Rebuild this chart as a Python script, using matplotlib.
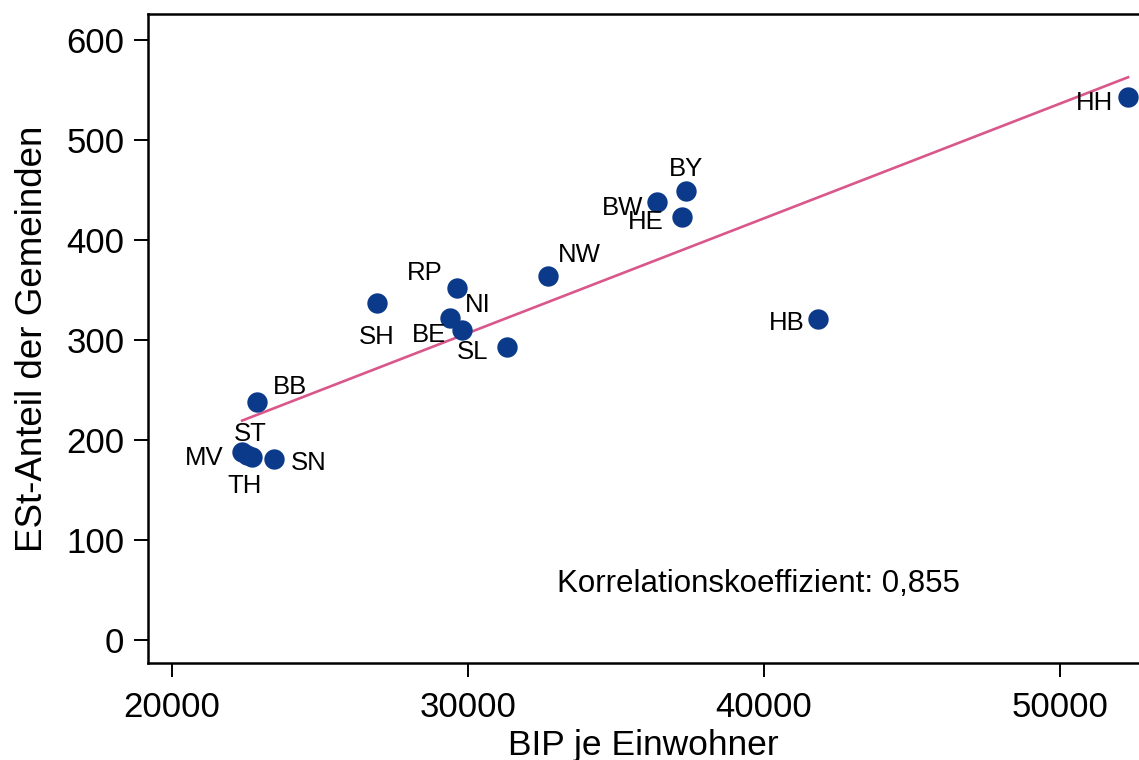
import matplotlib
matplotlib.use('Agg')
import matplotlib.pyplot as plt
import numpy as np

plt.rcParams['font.family'] = ['Liberation Sans', 'DejaVu Sans']

# Bundeslaender: BIP je Einwohner vs. ESt-Anteil der Gemeinden
states = ['HH', 'BY', 'BW', 'HE', 'NW', 'HB', 'RP', 'NI', 'BE', 'SL',
          'SH', 'BB', 'MV', 'TH', 'SN', 'ST']
bip = [52300, 37370, 36390, 37230, 32700, 41820, 29630, 29390, 29800, 31320,
       26930, 22870, 22370, 22700, 23450, 22550]
est = [543, 449, 438, 423, 364, 321, 352, 322, 310, 293,
       337, 238, 188, 183, 181, 185]
corr_text = 'Korrelationskoeffizient: 0,855'

# label placement (offset in pixels, alignment)
label_pos = {
    'BB': (16, 15, 'left'), 'ST': (3, 21, 'center'), 'MV': (-19, -6, 'right'),
    'TH': (-7, -29, 'center'), 'SN': (17, -4, 'left'), 'SH': (0, -34, 'center'),
    'BE': (-16, -5, 'right'), 'NI': (15, 13, 'left'), 'RP': (-14, 15, 'right'),
    'SL': (-19, -5, 'right'), 'NW': (10, 21, 'left'), 'BY': (0, 22, 'center'),
    'BW': (-14, -6, 'right'), 'HE': (-18, -5, 'right'), 'HH': (-15, -6, 'right'),
    'HB': (-13, -4, 'right'),
}

x = np.array(bip, dtype=float)
y = np.array(est, dtype=float)

fig = plt.figure(figsize=(11.39, 7.6), dpi=100)
ax = fig.add_axes([148/1139, 1 - 663/760, 991/1139, 649/760])

ax.scatter(x, y, s=215, color='#0b3a8a', zorder=3, linewidths=0)

# linear fit over the data range
slope, icpt = np.polyfit(x, y, 1)
xs = np.array([x.min(), x.max()])
ax.plot(xs, slope * xs + icpt, color='#d9578a', lw=1.9, zorder=2)

for name, xi, yi in zip(states, x, y):
    dx, dy, ha = label_pos[name]
    ax.annotate(name, (xi, yi), xytext=(dx, dy), textcoords='offset pixels',
                ha=ha, va='center', fontsize=18.5, zorder=4)

ax.text(0.413, 0.122, corr_text, transform=ax.transAxes, fontsize=22.5,
        ha='left', va='center')

ax.set_xlim(19189, 52669)
ax.set_ylim(-23, 626)
ax.set_xticks([20000, 30000, 40000, 50000])
ax.set_yticks(range(0, 700, 100))
ax.tick_params(labelsize=25, length=10, width=1.4, direction='out')
ax.tick_params(axis='x', pad=10)
ax.tick_params(axis='y', pad=7)
for side in ['left', 'bottom', 'top']:
    ax.spines[side].set_linewidth(1.8)
ax.spines['right'].set_visible(False)

ax.set_xlabel('BIP je Einwohner', fontsize=25.5, labelpad=4)
ax.set_ylabel('ESt-Anteil der Gemeinden', fontsize=26.5, labelpad=12)

fig.savefig('out.png', dpi=100)
